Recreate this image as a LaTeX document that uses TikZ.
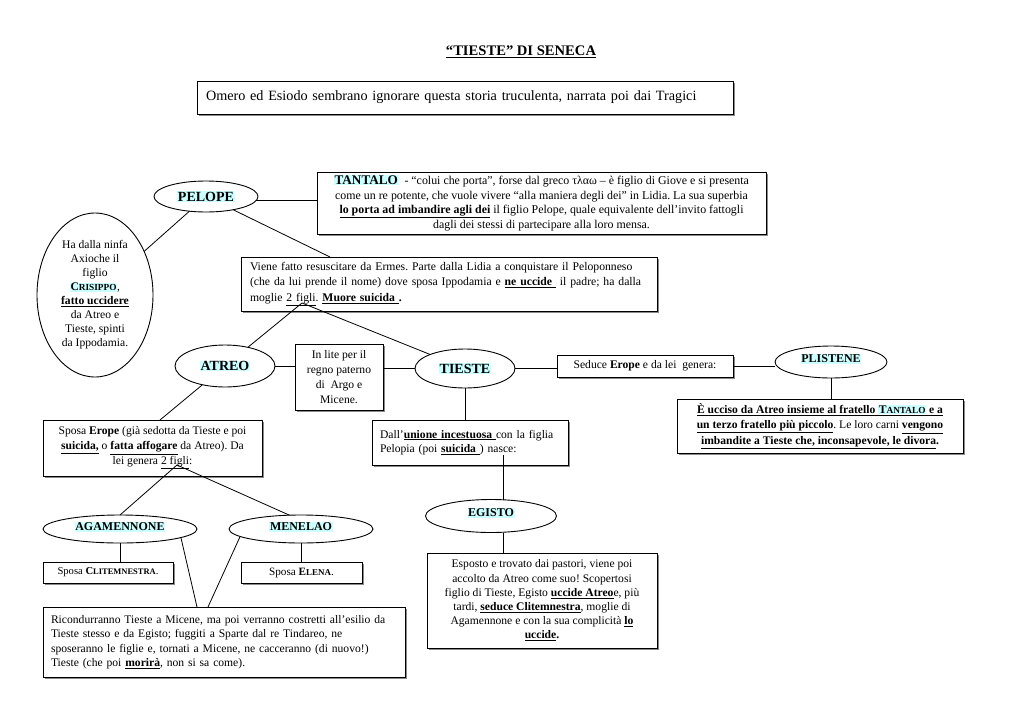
\documentclass[tikz,border=0pt]{standalone}
\usepackage{fontspec}
\setmainfont{Liberation Serif}
\usetikzlibrary{shapes.geometric,calc,shadows}
\definecolor{hlc}{HTML}{CCFFFF}
\definecolor{shd}{HTML}{8A8A8A}
\makeatletter
\newcommand\fsc[1]{{\fontsize{\fpeval{0.8*\f@size}}{\f@baselineskip}\selectfont #1}}
\makeatother
\newcommand\hl[1]{{\setlength\fboxsep{0.6pt}\colorbox{hlc}{#1}}}
\newcommand\ub[1]{\underline{\textbf{#1}}}
\frenchspacing
\begin{document}
\begin{tikzpicture}[x=1pt,y=-1pt,
  every node/.style={inner sep=0pt,outer sep=0pt},
  box/.style={draw,line width=1pt,fill=white,rectangle,
    drop shadow={shadow xshift=1.5pt,shadow yshift=-1.5pt,fill=shd,opacity=1}},
  ell/.style={draw,line width=0.9pt,fill=white,ellipse},
  conn/.style={line width=0.8pt},
  body/.style={font=\fontsize{11.6}{14.5}\selectfont},
  big/.style={font=\fontsize{14}{16}\selectfont\bfseries},
  mid/.style={font=\fontsize{12}{14}\selectfont\bfseries},
]
\fill[white] (0,0) rectangle (1024,725);
\useasboundingbox (0,0) rectangle (1024,725);

% title
\node[font=\fontsize{14.6}{16}\selectfont\bfseries] (title) at (521,52) {\underline{“TIESTE” DI SENECA}};

% boxes
\node[box,font=\fontsize{14.2}{16}\selectfont,align=left,text width=518pt,inner xsep=9pt,minimum height=33pt] (omero) at (465,97.5)
  {Omero ed Esiodo sembrano ignorare questa storia truculenta, narrata poi dai Tragici};

\node[box,font=\fontsize{11.9}{14.5}\selectfont,align=center,minimum width=449pt,minimum height=62pt] (tantalo) at (541.5,203)
  {\hl{\fontsize{13.2}{14}\selectfont\bfseries TANTALO}\ \ - “colui che porta”, forse dal greco τλαω – è figlio di Giove e si presenta\\
   come un re potente, che vuole vivere “alla maniera degli dei” in Lidia. La sua superbia\\
   \ub{lo porta ad imbandire agli dei} il figlio Pelope, quale equivalente dell’invito fattogli\\
   dagli dei stessi di partecipare alla loro mensa.};

\node[box,font=\fontsize{11.7}{15.5}\selectfont,align=left,text width=398pt,inner xsep=9pt,minimum height=54pt] (viene) at (449,284)
  {Viene fatto resuscitare da Ermes. Parte dalla Lidia a conquistare il Peloponneso\\
   (che da lui prende il nome) dove sposa Ippodamia e \ub{ne uccide }\ il padre; ha dalla\\
   moglie \underline{2 figli}. \ub{Muore suicida }\textbf{.}};

\node[box,font=\fontsize{11.6}{15}\selectfont,align=center,minimum width=88pt,minimum height=66pt] (inlite) at (339,377)
  {In lite per il\\regno paterno\\di\ \ Argo e\\Micene.};

\node[box,body,align=center,minimum width=176pt,minimum height=22pt] (seduce) at (645,366)
  {Seduce \textbf{Erope} e da lei\ \ genera:};

\node[box,font=\fontsize{11.6}{15.5}\selectfont\bfseries,align=center,minimum width=286pt,minimum height=54pt] (plistbox) at (820,426)
  {\underline{È ucciso da Atreo insieme al fratello \hl{T\fsc{ANTALO}} e a}\\
   \underline{un terzo fratello più piccolo}\mdseries. Le loro carni \ub{vengono}\\
   \underline{imbandite a Tieste che, inconsapevole, le divora}.};

\node[box,font=\fontsize{11.6}{15}\selectfont,align=center,minimum width=219pt,minimum height=56pt] (erope) at (152.5,448)
  {Sposa \textbf{Erope} (già sedotta da Tieste e poi\\
   \ub{suicida,} o \ub{fatta affogare} da Atreo). Da\\
   lei genera \underline{2 figli}:};

\node[box,body,align=left,text width=180pt,inner xsep=8pt,minimum height=45pt] (dall) at (470,442.5)
  {Dall’\ub{unione incestuosa }con la figlia\\
   Pelopia (poi \ub{suicida }) nasce:};

\node[box,font=\fontsize{11.6}{14.2}\selectfont,align=center,minimum width=230pt,minimum height=95pt] (esposto) at (542,600.5)
  {Esposto e trovato dai pastori, viene poi\\
   accolto da Atreo come suo! Scopertosi\\
   figlio di Tieste, Egisto \ub{uccide Atreo}e, più\\
   tardi, \ub{seduce Clitemnestra}, moglie di\\
   Agamennone e con la sua complicità \ub{lo}\\
   \ub{uccide}\textbf{.}};

\node[box,font=\fontsize{10.6}{12}\selectfont,align=center,minimum width=130pt,minimum height=21pt] (clit) at (108,572.5)
  {Sposa \textbf{C\fsc{LITEMNESTRA}}.};

\node[box,font=\fontsize{11.2}{12}\selectfont,align=center,minimum width=121pt,minimum height=21pt] (elena) at (301.5,572.5)
  {Sposa \textbf{E\fsc{LENA}}.};

\node[box,body,align=left,text width=346pt,inner xsep=8pt,minimum height=70pt] (ricond) at (224,642)
  {Ricondurranno Tieste a Micene, ma poi verranno costretti all’esilio da\\
   Tieste stesso e da Egisto; fuggiti a Sparte dal re Tindareo, ne\\
   sposeranno le figlie e, tornati a Micene, ne cacceranno (di nuovo!)\\
   Tieste (che poi \ub{morirà}, non si sa come).};

% ellipses
\node[ell,minimum width=104pt,minimum height=31pt,label={[big]center:\hl{PELOPE}}] (pelope) at (206,196.5) {};
\node[ell,minimum width=116pt,minimum height=164pt,
  label={[font=\fontsize{11.6}{14}\selectfont,align=center]center:Ha dalla ninfa\\Axioche il\\figlio\\\hl{\textbf{C\fsc{RISIPPO}}},\\\ub{fatto uccidere}\\da Atreo e\\Tieste, spinti\\da Ippodamia.}] (crisippo) at (95,295) {};
\node[ell,minimum width=100pt,minimum height=42pt,label={[big]center:\hl{ATREO}}] (atreo) at (225,366) {};
\node[ell,minimum width=100pt,minimum height=39pt,label={[big]center:\hl{TIESTE}}] (tieste) at (465,368.5) {};
\node[ell,minimum width=112pt,minimum height=32pt,label={[mid,yshift=3pt]center:\hl{PLISTENE}}] (plistene) at (831,362) {};
\node[ell,minimum width=131pt,minimum height=33pt,label={[mid,yshift=3pt]center:\hl{EGISTO}}] (egisto) at (491,516) {};
\node[ell,minimum width=154pt,minimum height=28pt,label={[mid,yshift=2pt]center:\hl{AGAMENNONE}}] (agamennone) at (120,529) {};
\node[ell,minimum width=144pt,minimum height=28pt,label={[mid,yshift=2pt]center:\hl{MENELAO}}] (menelao) at (301,529) {};

% connector end points
\coordinate (v1) at (330,257);
\coordinate (f1) at (302,303);
\coordinate (e1) at (160,420);
\coordinate (f2) at (177,465);
\coordinate (d1) at (503,455);

% connectors
\draw[conn] (pelope.-5) -- (pelope.-5 -| tantalo.west);
\draw[conn] (pelope) -- (v1);
\draw[conn] (pelope) -- (crisippo);
\draw[conn] (f1) -- (atreo);
\draw[conn] (f1) -- (tieste);
\draw[conn] (atreo) -- (atreo -| inlite.west);
\draw[conn] (tieste) -- (tieste -| inlite.east);
\draw[conn] (tieste) -- (tieste -| seduce.west);
\draw[conn] (seduce.east) -- (seduce.east -| plistene.west);
\draw[conn] (plistene) -- (plistene |- plistbox.north);
\draw[conn] (atreo) -- (e1);
\draw[conn] (f2) -- (agamennone.north);
\draw[conn] (f2) -- (menelao.130);
\draw[conn] (agamennone) -- (agamennone |- clit.north);
\draw[conn] (menelao) -- (menelao |- elena.north);
\draw[conn] (agamennone.-8) -- ($(ricond.north)+(-27,0)$);
\draw[conn] (menelao.187) -- ($(ricond.north)+(-16,0)$);
\draw[conn] (tieste) -- (tieste |- dall.north);
\draw[conn] (d1) -- (d1 |- egisto.north);
\draw[conn] (d1 |- egisto.south) -- (d1 |- esposto.north);
\end{tikzpicture}
\end{document}
